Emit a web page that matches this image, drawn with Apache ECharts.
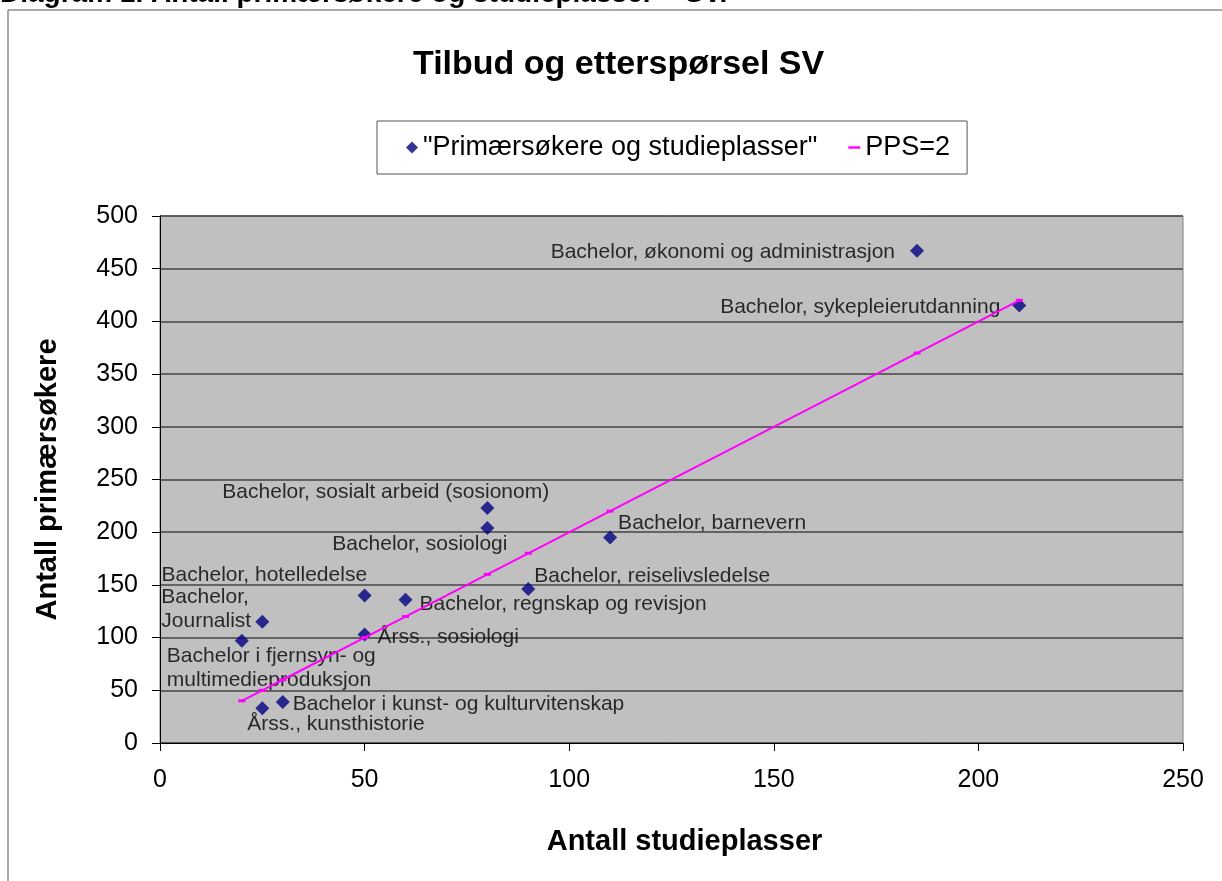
<!DOCTYPE html>
<html>
<head>
<meta charset="utf-8">
<title>Tilbud og etterspørsel SV</title>
<script src="https://cdn.jsdelivr.net/npm/echarts@6.0.0/dist/echarts.min.js"></script>
<style>
  html, body { margin: 0; padding: 0; background: #fff; }
  #main { width: 1222px; height: 881px; }
</style>
</head>
<body>
<div id="main"></div>
<script>
// studietilbud: navn, studieplasser (x) og primærsøkere (y)
var names = [
    'Bachelor, økonomi og administrasjon',
    'Bachelor, sykepleierutdanning',
    'Bachelor, sosialt arbeid (sosionom)',
    'Bachelor, sosiologi',
    'Bachelor, barnevern',
    'Bachelor, reiselivsledelse',
    'Bachelor, hotelledelse',
    'Bachelor, regnskap og revisjon',
    'Bachelor,\nJournalist',
    'Bachelor i fjernsyn- og\nmultimedieproduksjon',
    'Årss., sosiologi',
    'Bachelor i kunst- og kulturvitenskap',
    'Årss., kunsthistorie'
]
var studieplasser = [185, 210, 80, 80, 110, 90, 50, 60, 25, 20, 50, 30, 25]
var primarsokere = [467, 415, 223, 204, 195, 146, 140, 136, 115, 97, 103, 39, 33]

// linja PPS=2 (to primærsøkere per studieplass)
var ppsX = [20, 25, 30, 50, 60, 80, 90, 110, 185, 210]
var ppsY = [40, 50, 60, 100, 120, 160, 180, 220, 370, 420]

var xTicks = [0, 50, 100, 150, 200, 250]
var yTicks = [0, 50, 100, 150, 200, 250, 300, 350, 400, 450, 500]

// hvor etikettene står i forhold til punktet: [align, dx, dy]
var labelPlace = [
    ['right', -22, 1],
    ['right', -19, 2],
    ['left', -265, -16],
    ['left', -155, 16],
    ['left', 8, -14],
    ['left', 6, -13],
    ['left', -203, -20],
    ['left', 14, 5],
    ['left', -101, -13],
    ['left', -75, 27],
    ['left', 13, 3],
    ['left', 10, 2],
    ['left', -15, 16]
]

var font = '"Liberation Sans", Arial, sans-serif'

var scatterData = names.map(function (n, i) {
    return {
        name: n,
        value: [studieplasser[i], primarsokere[i]],
        label: {
            show: true,
            formatter: n,
            position: ['50%', '50%'],
            align: labelPlace[i][0],
            verticalAlign: 'middle',
            offset: [labelPlace[i][1], labelPlace[i][2]]
        }
    }
})
var lineData = ppsX.map(function (x, i) { return [x, ppsY[i]] })

var myChart = echarts.init(document.getElementById('main'))

var option = {
    backgroundColor: '#fff',
    animation: false,
    textStyle: { fontFamily: font },
    title: {
        text: 'Tilbud og etterspørsel SV',
        left: 408,
        top: 43,
        textStyle: { fontFamily: font, fontSize: 34, fontWeight: 'bold', color: '#000' }
    },
    legend: {
        left: 377,
        top: 121,
        padding: [13, 17, 13, 29],
        backgroundColor: '#fff',
        borderColor: '#555',
        borderWidth: 1,
        borderRadius: 0,
        itemGap: 31,
        itemWidth: 12,
        itemHeight: 12,
        textStyle: { fontFamily: font, fontSize: 27, color: '#000' },
        data: [
            { name: '"Primærsøkere og studieplasser"', icon: 'diamond' },
            { name: 'PPS=2', icon: 'path://M0,5L10,5L10,7L0,7Z' }
        ]
    },
    grid: {
        left: 160,
        right: 39,
        top: 216,
        bottom: 138,
        show: true,
        backgroundColor: '#c0c0c0',
        borderColor: '#808080',
        borderWidth: 1
    },
    xAxis: {
        type: 'value',
        min: xTicks[0],
        max: xTicks[xTicks.length - 1],
        interval: xTicks[1] - xTicks[0],
        name: 'Antall studieplasser',
        nameLocation: 'middle',
        nameGap: 84,
        nameTextStyle: { fontFamily: font, fontSize: 29, fontWeight: 'bold', color: '#000', padding: [0, 0, 0, 26] },
        axisLine: { show: true, onZero: false, lineStyle: { color: '#000', width: 1 } },
        axisTick: { show: true, length: 8, lineStyle: { color: '#000' } },
        axisLabel: { margin: 25, fontFamily: font, fontSize: 25, color: '#000' },
        splitLine: { show: false }
    },
    yAxis: {
        type: 'value',
        min: yTicks[0],
        max: yTicks[yTicks.length - 1],
        interval: yTicks[1] - yTicks[0],
        name: 'Antall primærsøkere',
        nameLocation: 'middle',
        nameGap: 98,
        nameTextStyle: { fontFamily: font, fontSize: 29, fontWeight: 'bold', color: '#000' },
        axisLine: { show: true, onZero: false, lineStyle: { color: '#000', width: 1 } },
        axisTick: { show: true, length: 8, lineStyle: { color: '#000' } },
        axisLabel: { margin: 22, fontFamily: font, fontSize: 25, color: '#000' },
        splitLine: { show: true, lineStyle: { color: '#444', width: 1.5 } }
    },
    series: [
        {
            name: '"Primærsøkere og studieplasser"',
            type: 'scatter',
            symbol: 'diamond',
            symbolSize: 14,
            z: 2,
            itemStyle: { color: '#000080' },
            label: { fontFamily: font, fontSize: 21, color: '#000', lineHeight: 24 },
            data: scatterData
        },
        {
            name: 'PPS=2',
            type: 'line',
            z: 3,
            symbol: 'rect',
            symbolSize: [7, 3],
            showSymbol: true,
            itemStyle: { color: '#ff00ff' },
            lineStyle: { color: '#ff00ff', width: 2 },
            data: lineData
        }
    ],
    graphic: [
        {
            type: 'rect',
            shape: { x: 8, y: 10, width: 1300, height: 1000 },
            style: { fill: null, stroke: '#555', lineWidth: 1 },
            silent: true
        },
        {
            type: 'text',
            left: 0,
            top: -20,
            style: {
                text: 'Diagram 1. Antall primærsøkere og studieplasser – SV.',
                font: 'bold 28px ' + font,
                fill: '#000'
            },
            silent: true
        }
    ]
}

myChart.setOption(option)
</script>
</body>
</html>
